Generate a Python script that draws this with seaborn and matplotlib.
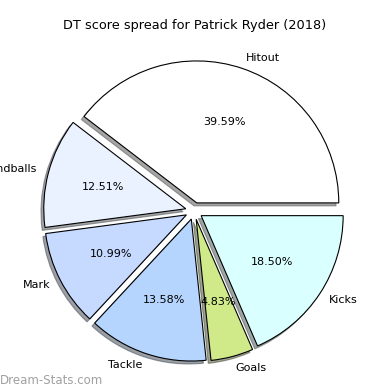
import matplotlib
matplotlib.use("Agg")
import matplotlib.pyplot as plt
import seaborn as sns

sns.set_style("white")
plt.rcParams['font.family'] = ['DejaVu Sans']
plt.rcParams['text.color'] = 'black'

categories = ["Hitout", "Handballs", "Mark", "Tackle", "Goals", "Kicks"]
values = [39.59, 12.51, 10.99, 13.58, 4.83, 18.50]
colors = ["#ffffff", "#eaf1ff", "#c6d9ff", "#b5d5ff", "#d0ea8a", "#d9ffff"]
title = "DT score spread for Patrick Ryder (2018)"
watermark = "Dream-Stats.com"

fig = plt.figure(figsize=(3.9, 3.9), dpi=100)
ax = fig.add_axes([0, 0, 1, 1])
ax.pie(values, labels=categories, colors=colors, autopct="%1.2f%%",
       explode=[0.06] * len(values),
       shadow={"ox": -0.014, "oy": -0.015, "label": "_nolegend_"},
       startangle=0, labeldistance=1.08,
       wedgeprops={"edgecolor": "black", "linewidth": 0.8},
       textprops={"fontsize": 8, "color": "black"})
ax.set_xlim(-1.366, 1.380)
ax.set_ylim(-1.261, 1.486)
ax.set_aspect("auto")
ax.axis("off")
fig.text(0.5, 1 - 25 / 390, title, ha="center", va="center", fontsize=9.3,
         color="black")
fig.text(0.0, 1 - 380 / 390, watermark, ha="left", va="center", fontsize=8.5,
         color="#a0a0a0")
fig.savefig("out.png", dpi=100)
